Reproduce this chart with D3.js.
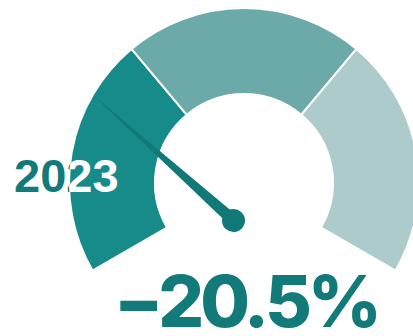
<!DOCTYPE html>
<html>
<head>
<meta charset="utf-8">
<script src="https://cdn.jsdelivr.net/npm/d3@7"></script>
<style>
  html, body { margin: 0; padding: 0; background: #fff; }
  svg { display: block; }
</style>
</head>
<body>
<svg id="chart" width="413" height="336"></svg>
<script>
// ---- data ----
const bandNames = ["low", "mid", "high"];
const bandBreaks = [-51, -17, 17, 51];
const bandColors = ["#168b8a", "#6caaaa", "#aecbcb"];
const gaugeValue = -20.5;
const valueLabel = "\u221220.5%";
const yearLabel = "2023";

// ---- layout ----
const W = 413, H = 336;
const cx = 244, cy = 183, rInner = 89, rOuter = 175;
const pivot = { x: 233.5, y: 220.5 };
const needleLen = 188, needleHalf = 6, hubR = 11.5;
const textColor = "#127a79";
const needleColor = "#117978";

const svg = d3.select("#chart");

const angle = d3.scaleLinear()
  .domain([bandBreaks[0], bandBreaks[bandBreaks.length - 1]])
  .range([-2 * Math.PI / 3, 2 * Math.PI / 3]);

const bands = bandNames.map((name, i) => ({
  name,
  start: bandBreaks[i],
  end: bandBreaks[i + 1],
  color: bandColors[i]
}));

const arc = d3.arc()
  .innerRadius(rInner)
  .outerRadius(rOuter)
  .startAngle(d => angle(d.start))
  .endAngle(d => angle(d.end));

const g = svg.append("g").attr("transform", `translate(${cx},${cy})`);

g.selectAll("path.band")
  .data(bands)
  .join("path")
  .attr("class", "band")
  .attr("d", arc)
  .attr("fill", d => d.color)
  .attr("stroke", "#fff")
  .attr("stroke-width", 2);

// clip path from first band for the year label overlay
const defs = svg.append("defs");
defs.append("clipPath").attr("id", "bandClip")
  .append("path")
  .attr("transform", `translate(${cx},${cy})`)
  .attr("d", arc(bands[0]));

// year label: teal outside band, white inside band
svg.append("text")
  .attr("x", 14).attr("y", 192)
  .attr("font-family", "Liberation Sans, Arial, sans-serif")
  .attr("font-weight", 700)
  .attr("font-size", 47)
  .attr("fill", textColor)
  .text(yearLabel);
svg.append("text")
  .attr("x", 14).attr("y", 192)
  .attr("font-family", "Liberation Sans, Arial, sans-serif")
  .attr("font-weight", 700)
  .attr("font-size", 47)
  .attr("fill", "#fff")
  .attr("clip-path", "url(#bandClip)")
  .text(yearLabel);

// needle
const deg = angle(gaugeValue) * 180 / Math.PI;
const needle = svg.append("g")
  .attr("transform", `translate(${pivot.x},${pivot.y}) rotate(${deg})`);
needle.append("path")
  .attr("d", `M${-needleHalf},0 L0,${-needleLen} L${needleHalf},0 Z`)
  .attr("fill", needleColor);
needle.append("circle")
  .attr("r", hubR)
  .attr("fill", needleColor);

// value label
svg.append("text")
  .attr("x", 246).attr("y", 327)
  .attr("text-anchor", "middle")
  .attr("font-family", "Inter, sans-serif")
  .attr("font-weight", 800)
  .attr("font-size", 72)
  .attr("letter-spacing", -4)
  .attr("fill", textColor)
  .text(valueLabel);
</script>
</body>
</html>
